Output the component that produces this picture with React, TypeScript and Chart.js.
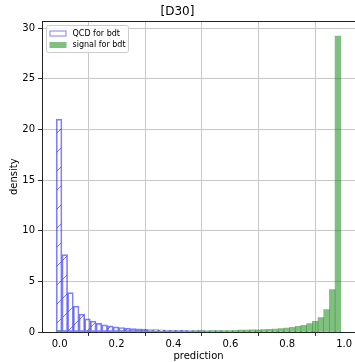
import React, { useEffect, useRef } from "react";
import { Chart, registerables } from "chart.js";

Chart.register(...registerables);

const titleText = "[D30]";
const xLabel = "prediction";
const yLabel = "density";
const seriesLabels = ["QCD for bdt", "signal for bdt"];

const binCenters = [
  -0.002, 0.018, 0.038, 0.058, 0.078, 0.098, 0.118, 0.138, 0.158, 0.178,
  0.198, 0.218, 0.238, 0.258, 0.278, 0.298, 0.318, 0.338, 0.358, 0.378,
  0.398, 0.418, 0.438, 0.458, 0.478, 0.498, 0.518, 0.538, 0.558, 0.578,
  0.598, 0.618, 0.638, 0.658, 0.678, 0.698, 0.718, 0.738, 0.758, 0.778,
  0.798, 0.818, 0.838, 0.858, 0.878, 0.898, 0.918, 0.938, 0.958, 0.978,
];

const qcdDensity = [
  21.0, 7.64, 3.89, 2.55, 1.75, 1.3, 1.07, 0.85, 0.7, 0.6,
  0.5, 0.44, 0.38, 0.34, 0.31, 0.28, 0.25, 0.23, 0.21, 0.19,
  0.18, 0.17, 0.16, 0.15, 0.14, 0.13, 0.12, 0.11, 0.11, 0.1,
  0.1, 0.09, 0.09, 0.09, 0.08, 0.08, 0.08, 0.07, 0.07, 0.07,
  0.07, 0.06, 0.06, 0.06, 0.06, 0.06, 0.05, 0.05, 0.05, 0.06,
];

const signalDensity = [
  0.12, 0.08, 0.07, 0.07, 0.07, 0.07, 0.07, 0.07, 0.07, 0.07,
  0.07, 0.08, 0.08, 0.08, 0.08, 0.08, 0.08, 0.09, 0.09, 0.09,
  0.09, 0.1, 0.1, 0.1, 0.11, 0.11, 0.12, 0.13, 0.13, 0.14,
  0.15, 0.16, 0.18, 0.19, 0.21, 0.22, 0.24, 0.26, 0.3, 0.34,
  0.39, 0.46, 0.56, 0.66, 0.83, 1.06, 1.42, 2.21, 4.19, 29.2,
];

const xTicks = [0, 0.2, 0.4, 0.6, 0.8, 1.0];
const yTicks = [0, 5, 10, 15, 20, 25, 30];
const xRange = [-0.062, 1.038];
const yRange = [0, 30.66];

const QCD_EDGE = "rgba(0,0,255,0.5)";
const SIGNAL_FILL = "rgba(0,128,0,0.5)";
const FONT = "'DejaVu Sans', sans-serif";

function makeHatch(ctx: CanvasRenderingContext2D): CanvasPattern | string {
  const size = 19;
  const pc = document.createElement("canvas");
  pc.width = size;
  pc.height = size;
  const p = pc.getContext("2d");
  if (!p) return "rgba(0,0,0,0)";
  p.strokeStyle = QCD_EDGE;
  p.lineWidth = 1;
  p.beginPath();
  p.moveTo(0, size);
  p.lineTo(size, 0);
  p.moveTo(-2, 2);
  p.lineTo(2, -2);
  p.moveTo(size - 2, size + 2);
  p.lineTo(size + 2, size - 2);
  p.stroke();
  return ctx.createPattern(pc, "repeat") || "rgba(0,0,0,0)";
}

const framePlugin = {
  id: "topFrame",
  afterDraw(chart: any) {
    const { ctx, chartArea } = chart;
    ctx.save();
    ctx.strokeStyle = "#222";
    ctx.lineWidth = 1;
    ctx.beginPath();
    const y = Math.round(chartArea.top) + 0.5;
    ctx.moveTo(chartArea.left, y);
    ctx.lineTo(chartArea.right, y);
    ctx.stroke();
    ctx.restore();
  },
};

const legendPlugin = {
  id: "mplLegend",
  afterDatasetsDraw(chart: any) {
    const { ctx, chartArea } = chart;
    const x = Math.round(chartArea.left) + 4;
    const y = Math.round(chartArea.top) + 4;
    const w = 82;
    const h = 27;
    ctx.save();
    ctx.beginPath();
    ctx.roundRect(x + 0.5, y + 0.5, w, h, 2);
    ctx.fillStyle = "rgba(255,255,255,0.8)";
    ctx.fill();
    ctx.strokeStyle = "#cccccc";
    ctx.lineWidth = 1;
    ctx.stroke();

    const ds = chart.data.datasets;
    const rows = [y + 8, y + 19.5];
    ds.forEach((d: any, i: number) => {
      const ry = rows[i];
      const mx = x + 3.5;
      if (i === 0) {
        ctx.fillStyle = "#fff";
        ctx.fillRect(mx, ry - 2.5, 16, 5);
        ctx.strokeStyle = QCD_EDGE;
        ctx.strokeRect(mx + 0.5, ry - 2.5 + 0.5, 16, 5);
      } else {
        ctx.fillStyle = SIGNAL_FILL;
        ctx.fillRect(mx, ry - 2.5, 17, 6);
      }
      ctx.fillStyle = "#000";
      ctx.font = `8px ${FONT}`;
      ctx.textBaseline = "middle";
      ctx.textAlign = "left";
      ctx.fillText(d.label, x + 26.5, ry + 0.5);
    });
    ctx.restore();
  },
};

export default function App() {
  const canvasRef = useRef<HTMLCanvasElement | null>(null);

  useEffect(() => {
    const canvas = canvasRef.current;
    if (!canvas) return;
    const ctx = canvas.getContext("2d");
    if (!ctx) return;
    const hatch = makeHatch(ctx);

    const chart = new Chart(ctx, {
      type: "bar",
      data: {
        datasets: [
          {
            label: seriesLabels[0],
            data: binCenters.map((x, i) => ({ x, y: qcdDensity[i] })),
            backgroundColor: hatch as any,
            borderColor: QCD_EDGE,
            borderWidth: 1,
            borderSkipped: false,
            barPercentage: 1,
            categoryPercentage: 1,
            grouped: false,
            order: 2,
          } as any,
          {
            label: seriesLabels[1],
            data: binCenters.map((x, i) => ({ x, y: signalDensity[i] })),
            backgroundColor: SIGNAL_FILL,
            borderWidth: 0,
            barPercentage: 1,
            categoryPercentage: 1,
            grouped: false,
            order: 1,
          } as any,
        ],
      },
      options: {
        animation: false,
        responsive: false,
        devicePixelRatio: 1,
        layout: { padding: 0 },
        plugins: {
          legend: { display: false },
          tooltip: { enabled: false },
          title: {
            display: true,
            text: titleText,
            color: "#000",
            font: { family: FONT, size: 12, weight: "normal" },
            padding: { top: 5, bottom: 2 },
          },
        },
        scales: {
          x: {
            type: "linear",
            min: xRange[0],
            max: xRange[1],
            offset: false,
            afterBuildTicks: (scale: any) => {
              scale.ticks = xTicks.map((v) => ({ value: v }));
            },
            afterFit: (scale: any) => {
              scale.height = 30;
              scale.paddingLeft = 0;
              scale.paddingRight = 0;
            },
            ticks: {
              autoSkip: false,
              maxRotation: 0,
              color: "#000",
              padding: 2,
              font: { family: FONT, size: 10 },
              callback: (v: any) => Number(v).toFixed(1),
            },
            grid: {
              color: "#c8c8c8",
              lineWidth: 1,
              tickColor: "#333",
              tickLength: 4,
            },
            border: { display: true, color: "#222", width: 1 },
            title: {
              display: true,
              text: xLabel,
              color: "#000",
              font: { family: FONT, size: 10 },
              padding: { top: 0, bottom: 0 },
            },
          },
          y: {
            type: "linear",
            min: yRange[0],
            max: yRange[1],
            afterBuildTicks: (scale: any) => {
              scale.ticks = yTicks.map((v) => ({ value: v }));
            },
            afterFit: (scale: any) => {
              scale.width = 42;
              scale.paddingTop = 0;
              scale.paddingBottom = 0;
            },
            ticks: {
              autoSkip: false,
              color: "#000",
              padding: 3,
              font: { family: FONT, size: 10 },
              callback: (v: any) => String(v),
            },
            grid: {
              color: "#c8c8c8",
              lineWidth: 1,
              tickColor: "#333",
              tickLength: 4,
            },
            border: { display: true, color: "#222", width: 1 },
            title: {
              display: true,
              text: yLabel,
              color: "#000",
              font: { family: FONT, size: 10 },
              padding: { top: 8, bottom: 0 },
            },
          },
        },
      } as any,
      plugins: [framePlugin, legendPlugin],
    });

    return () => chart.destroy();
  }, []);

  return (
    <div style={{ position: "absolute", left: 0, top: 0, width: 355, height: 362, background: "#fff" }}>
      <canvas ref={canvasRef} width={355} height={362} style={{ display: "block" }} />
    </div>
  );
}
